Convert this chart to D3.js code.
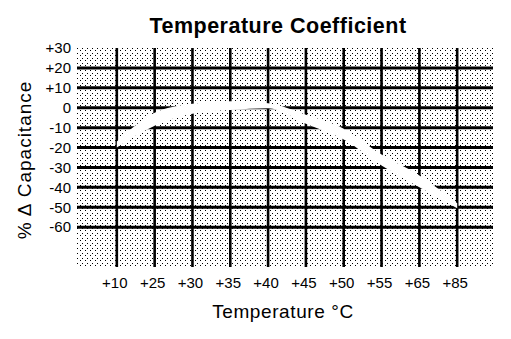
<!DOCTYPE html>
<html>
<head>
<meta charset="utf-8">
<script src="https://cdn.jsdelivr.net/npm/d3@7/dist/d3.min.js"></script>
<style>
  html, body { margin: 0; padding: 0; background: #fff; }
  svg { display: block; font-family: "Liberation Sans", Arial, Helvetica, sans-serif; }
</style>
</head>
<body>
<svg id="chart" width="511" height="339"></svg>
<script>
// Temperature steps (°C) along the x axis
const temps = ["+10", "+25", "+30", "+35", "+40", "+45", "+50", "+55", "+65", "+85"];
// Capacitance change band (%): upper and lower limits at each temperature
const capHigh = [-17, -2.5, 2, 3.3, 2.2, -3.5, -10.5, -23.5, -34, -48];
const capLow  = [-20, -9, -3, -1.2, -0.3, -8, -16, -29, -40, -50.5];
// Horizontal gridline / tick values (%)
const yTicks = [20, 10, 0, -10, -20, -30, -40, -50, -60];
const yTickLabels = ["+20", "+10", "0", "-10", "-20", "-30", "-40", "-50", "-60"];
const yTopLabel = { value: 30, text: "+30" };

const svg = d3.select("#chart");
const plot = { left: 77, right: 493, top: 48, bottom: 267 };

const x = d3.scalePoint().domain(temps).range([79, 495]).padding(1);
const y = d3.scaleLinear().domain([-80, 30]).range([plot.bottom, plot.top]);

// Stippled background
const defs = svg.append("defs");
const pat = defs.append("pattern")
  .attr("id", "stipple").attr("patternUnits", "userSpaceOnUse")
  .attr("width", 5).attr("height", 5);
pat.append("rect").attr("width", 5).attr("height", 5).attr("fill", "#fff");
pat.append("rect").attr("x", 0).attr("y", 0).attr("width", 1).attr("height", 1).attr("fill", "#000");
pat.append("rect").attr("x", 2).attr("y", 3).attr("width", 1).attr("height", 1).attr("fill", "#000");

svg.append("rect")
  .attr("x", plot.left).attr("y", plot.top)
  .attr("width", plot.right - plot.left).attr("height", plot.bottom - plot.top)
  .attr("fill", "url(#stipple)");

// Gridlines
svg.append("g").selectAll("line").data(yTicks).join("line")
  .attr("x1", plot.left).attr("x2", plot.right)
  .attr("y1", d => y(d)).attr("y2", d => y(d))
  .attr("stroke", "#000").attr("stroke-width", 3);

svg.append("g").selectAll("line").data(temps).join("line")
  .attr("x1", d => x(d)).attr("x2", d => x(d))
  .attr("y1", plot.top).attr("y2", plot.bottom)
  .attr("stroke", "#000").attr("stroke-width", 2.6);

// Capacitance band
const band = d3.area()
  .x((d, i) => x(temps[i]))
  .y0((d, i) => y(capHigh[i]))
  .y1((d, i) => y(capLow[i]))
  .curve(d3.curveMonotoneX);
svg.append("path").datum(temps).attr("d", band).attr("fill", "#fff");

// Y tick labels
const yLab = svg.append("g").attr("font-size", 15).attr("fill", "#000")
  .attr("text-anchor", "end");
yLab.selectAll("text").data(yTicks).join("text")
  .attr("x", 71).attr("y", d => y(d)).attr("dy", "0.35em")
  .text((d, i) => yTickLabels[i]);
yLab.append("text").attr("x", 71).attr("y", y(yTopLabel.value)).attr("dy", "0.35em")
  .text(yTopLabel.text);

// X tick labels
svg.append("g").attr("font-size", 15).attr("fill", "#000").attr("text-anchor", "middle")
  .selectAll("text").data(temps).join("text")
  .attr("x", d => x(d) - 2).attr("y", 288)
  .text(d => d);

// Titles
svg.append("text").attr("x", 278).attr("y", 33).attr("text-anchor", "middle")
  .attr("font-size", 21.5).attr("font-weight", "bold").attr("letter-spacing", 0.5)
  .text("Temperature Coefficient");
svg.append("text").attr("x", 283).attr("y", 318).attr("text-anchor", "middle")
  .attr("font-size", 19).attr("letter-spacing", 0.6).text("Temperature °C");
svg.append("text").attr("transform", "translate(31,160) rotate(-90)")
  .attr("text-anchor", "middle").attr("font-size", 19).attr("letter-spacing", 1)
  .text("% Δ Capacitance");
</script>
</body>
</html>
